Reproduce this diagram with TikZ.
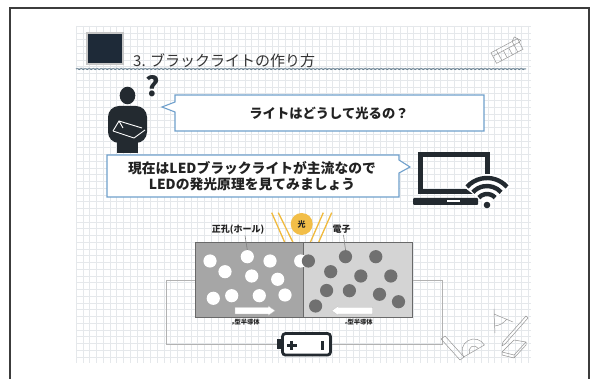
\documentclass[tikz,border=0pt]{standalone}
\usepackage{fontspec}
\setmainfont{Noto Sans CJK JP}
\newfontfamily\jp{Noto Sans CJK JP}
\usetikzlibrary{decorations.pathmorphing,calc}

\definecolor{frameline}{RGB}{60,60,60}
\definecolor{gridline}{RGB}{229,232,235}
\definecolor{bubbleblue}{RGB}{112,160,204}
\definecolor{icondark}{RGB}{35,42,48}
\definecolor{navy}{RGB}{30,42,56}
\definecolor{wavy}{RGB}{100,125,142}
\definecolor{ptype}{RGB}{166,166,166}
\definecolor{ntype}{RGB}{212,212,212}
\definecolor{cellborder}{RGB}{105,105,105}
\definecolor{electron}{RGB}{112,112,112}
\definecolor{lightgold}{RGB}{242,190,72}
\definecolor{raygold}{RGB}{240,186,62}
\definecolor{wire}{RGB}{178,178,178}
\definecolor{sketch}{RGB}{150,150,150}
\definecolor{textdark}{RGB}{34,34,34}

\begin{document}
\begin{tikzpicture}[x=1pt,y=-1pt,
  gridrule/.style={draw=gridline, line width=0.35pt},
  calloutline/.style={draw=bubbleblue, line width=1.1pt, fill=white},
  holedot/.style={circle, fill=white, inner sep=0pt, minimum size=13.2pt},
  electrondot/.style={circle, fill=electron, inner sep=0pt, minimum size=13.2pt},
  lightray/.style={draw=raygold, line width=1.3pt},
  wireline/.style={draw=wire, line width=0.8pt},
  pointerline/.style={draw=gray, line width=0.6pt},
  sketchline/.style={draw=sketch, line width=0.5pt, line join=round},
  flowarrow/.style={fill=white, draw=gray!50, line width=0.3pt},
  cell/.style={draw=cellborder, line width=0.8pt, inner sep=0pt,
    minimum width=108.5pt, minimum height=74.6pt},
  jplabel/.style={text=textdark, inner sep=0pt}
]
\useasboundingbox (0,0) rectangle (597,379);
\fill[white] (0,0) rectangle (597,379);

% squared paper
\foreach \gx in {76,82.75,...,531} \draw[gridrule] (\gx,26) -- (\gx,363);
\foreach \gy in {26,32.75,...,363} \draw[gridrule] (76,\gy) -- (531,\gy);

% page frame
\draw[frameline, line width=1.3pt] (10,390) -- (10,8) -- (589,8) -- (589,390);

% heading
\node[fill=navy, draw=gray!45, line width=1.6pt, minimum width=36pt,
      minimum height=31pt, inner sep=0pt] (titlemark) at (105,48.5) {};
\node[jplabel, anchor=west, font=\jp\fontsize{15}{15}\selectfont, text=black!80]
      (title) at (133,61) {3. ブラックライトの作り方};
\draw[wavy, line width=0.9pt, decorate,
      decoration={snake, amplitude=0.6pt, segment length=4pt}] (76,69) -- (526,69);
\draw[wavy!70, line width=0.5pt, decorate,
      decoration={random steps, segment length=3pt, amplitude=0.5pt}] (76,68.5) -- (526,68.5);

% eraser sketch
\begin{scope}[shift={(507,51)}, rotate=28]
  \draw[sketchline] (-15,-6) rectangle (15,6);
  \draw[sketchline] (-15,-2) -- (15,-2);
  \draw[sketchline] (-9,-6) -- (-9,6) (-3,-2) -- (-3,6) (3,-2) -- (3,6) (9,-6) -- (9,6);
  \draw[sketchline] (9,-6) -- (13,-9) -- (17,-3) -- (15,-2);
\end{scope}

% thinking person
\fill[icondark] (127.5,95.5) ellipse [x radius=7.8, y radius=8.8];
\fill[icondark, rounded corners=11pt] (108,143) -- (108,106) -- (147,106) -- (147,143) -- cycle;
\fill[icondark] (117,138) rectangle (138,153.5);
\draw[white, line width=0.9pt, line join=round] (113,131) -- (119,121) -- (142,128);
\draw[white, line width=0.9pt, line join=round] (113,131) -- (134,138) -- (145,130);
\draw[white, line width=0.9pt] (119,121) -- (123,128);
\node[jplabel, font=\jp\bfseries\fontsize{27}{27}\selectfont, text=icondark] (qmark) at (153,86) {?};

% question bubble
\draw[calloutline] (175,95) -- (484,95) -- (484,131) -- (175,131) -- (175,112)
      -- (162,107) -- (175,102) -- cycle;
\node[jplabel, font=\jp\bfseries\fontsize{13.3}{13.3}\selectfont] (question) at (329,113)
      {ライトはどうして光るの？};

% answer bubble
\draw[calloutline] (107,155) -- (399,155) -- (399,160) -- (410,167) -- (399,173)
      -- (399,197) -- (107,197) -- cycle;
\node[jplabel, align=center, font=\jp\bfseries\fontsize{13.8}{16}\selectfont] (answer) at (252,176)
      {現在はLEDブラックライトが主流なので\\LEDの発光原理を見てみましょう};

% laptop with wifi
\draw[icondark, line width=5pt] (420.5,154.5) rectangle (487.5,192);
\fill[icondark, rounded corners=1pt] (413,198) rectangle (478,205);
\fill[white] (447,199.6) rectangle (460,201.8);
\coordinate (wifi) at (487,205);
\fill[white] (wifi) -- ($(wifi)+(-38:31)$) arc[start angle=-38, end angle=-142, radius=31] -- cycle;
\fill[icondark] (wifi) circle[radius=3.3];
\foreach \wr in {11,19,27}
  \draw[icondark, line width=4.4pt] ($(wifi)+(-42:\wr)$) arc[start angle=-42, end angle=-138, radius=\wr];

% light rays
\draw[lightray] (271.7,212.7) -- (285,243);
\draw[lightray] (278.3,212.7) -- (293.3,243);
\draw[lightray] (323.3,212.7) -- (310,243);
\draw[lightray] (331.7,212.7) -- (318.3,243);
\node[circle, fill=lightgold, minimum size=22pt, inner sep=0pt,
      font=\jp\bfseries\fontsize{8}{8}\selectfont, text=textdark] (light) at (301.7,224) {光};

% p-n junction
\node[cell, fill=ptype] (pside) at (249.5,280) {};
\node[cell, fill=ntype] (nside) at (358,280) {};

% holes
\foreach \n/\cx/\cy in {1/210/261, 2/247.3/256.7, 3/270/261, 4/300.7/261, 5/225/271.7,
    6/251.7/276, 7/277.7/279.3, 8/213.3/298.3, 9/231.7/295.7, 10/259.3/295.7, 11/285/295}
  \node[holedot] (h\n) at (\cx,\cy) {};
% electrons
\foreach \n/\cx/\cy in {1/308.4/261, 2/345.5/256.7, 3/375.8/256.7, 4/330.7/271.7,
    5/360.8/276, 6/390.8/276, 7/326.6/290.5, 8/349.4/290.7, 9/379.5/294.3,
    10/398.5/301.7, 11/315.6/306}
  \node[electrondot] (e\n) at (\cx,\cy) {};

% carrier drift arrows
\draw[flowarrow] (235,307.3) -- (268.3,307.3) -- (268.3,306) -- (275,310.7)
      -- (268.3,315.3) -- (268.3,314) -- (235,314) -- cycle;
\draw[flowarrow] (372.7,307.3) -- (338.3,307.3) -- (338.3,306) -- (331.7,310.7)
      -- (338.3,315.3) -- (338.3,314) -- (372.7,314) -- cycle;

% labels
\node[jplabel, font=\jp\bfseries\fontsize{9}{9}\selectfont] (holelabel) at (238,229.5) {正孔(ホール)};
\node[jplabel, font=\jp\bfseries\fontsize{9}{9}\selectfont] (elabel) at (341.5,229.5) {電子};
\draw[pointerline] ([xshift=7pt,yshift=-1pt]holelabel.south) -- (h2.north);
\draw[pointerline] ([xshift=2pt,yshift=-1pt]elabel.south) -- (e2.north);
\node[jplabel, font=\jp\bfseries\fontsize{6.3}{7}\selectfont] (plabel) at (246,322)
      {{\fontsize{3.5}{4}\selectfont p}型半導体};
\node[jplabel, font=\jp\bfseries\fontsize{6.3}{7}\selectfont] (nlabel) at (359,322)
      {{\fontsize{3.5}{4}\selectfont n}型半導体};

% battery
\node[draw=icondark, line width=2.8pt, rounded corners=3pt, minimum width=48pt,
      minimum height=21.5pt, inner sep=0pt, fill=white] (battery) at (306.5,344.3) {};
\fill[icondark] (276.5,339.3) rectangle (282,349.3);
\coordinate (batteryneg) at (276.5,344.3);
\draw[icondark, line width=2.6pt] (287,345.5) -- (296.5,345.5) (291.75,340.75) -- (291.75,350.25);
\draw[icondark, line width=2.6pt] (322.5,341.3) -- (322.5,350.3);

% circuit
\draw[wireline] (pside.west) -- (166,280) -- (166,344.3) -- (batteryneg);
\draw[wireline] (nside.east) -- (442.7,280) -- (442.7,344.3) -- (battery.east);

% drawing tools
\draw[sketchline] (441,339) -- (460,360) -- (464,357) -- (445,336) -- cycle;
\begin{scope}[shift={(474,351)}, rotate=30]
  \draw[sketchline] (-12,0) arc[start angle=180, end angle=360, radius=12] -- cycle;
  \draw[sketchline] (-5,0) arc[start angle=180, end angle=360, radius=5];
\end{scope}
\draw[sketchline] (494,309) -- (494,314) (494,314) -- (495,333) (494,314) -- (513,322);
\draw[sketchline] (495,326) to[bend right=20] (507,319);
\draw[sketchline] (526,316) -- (503,342) -- (502,346) -- (505,344) -- (528,318) -- cycle;
\draw[sketchline] (502,352) -- (514,340) -- (526,342) -- (514,355) -- cycle;
\draw[sketchline] (502,352) -- (502,355) -- (514,358) -- (514,355) (514,358) -- (526,345) -- (526,342);
\end{tikzpicture}
\end{document}
